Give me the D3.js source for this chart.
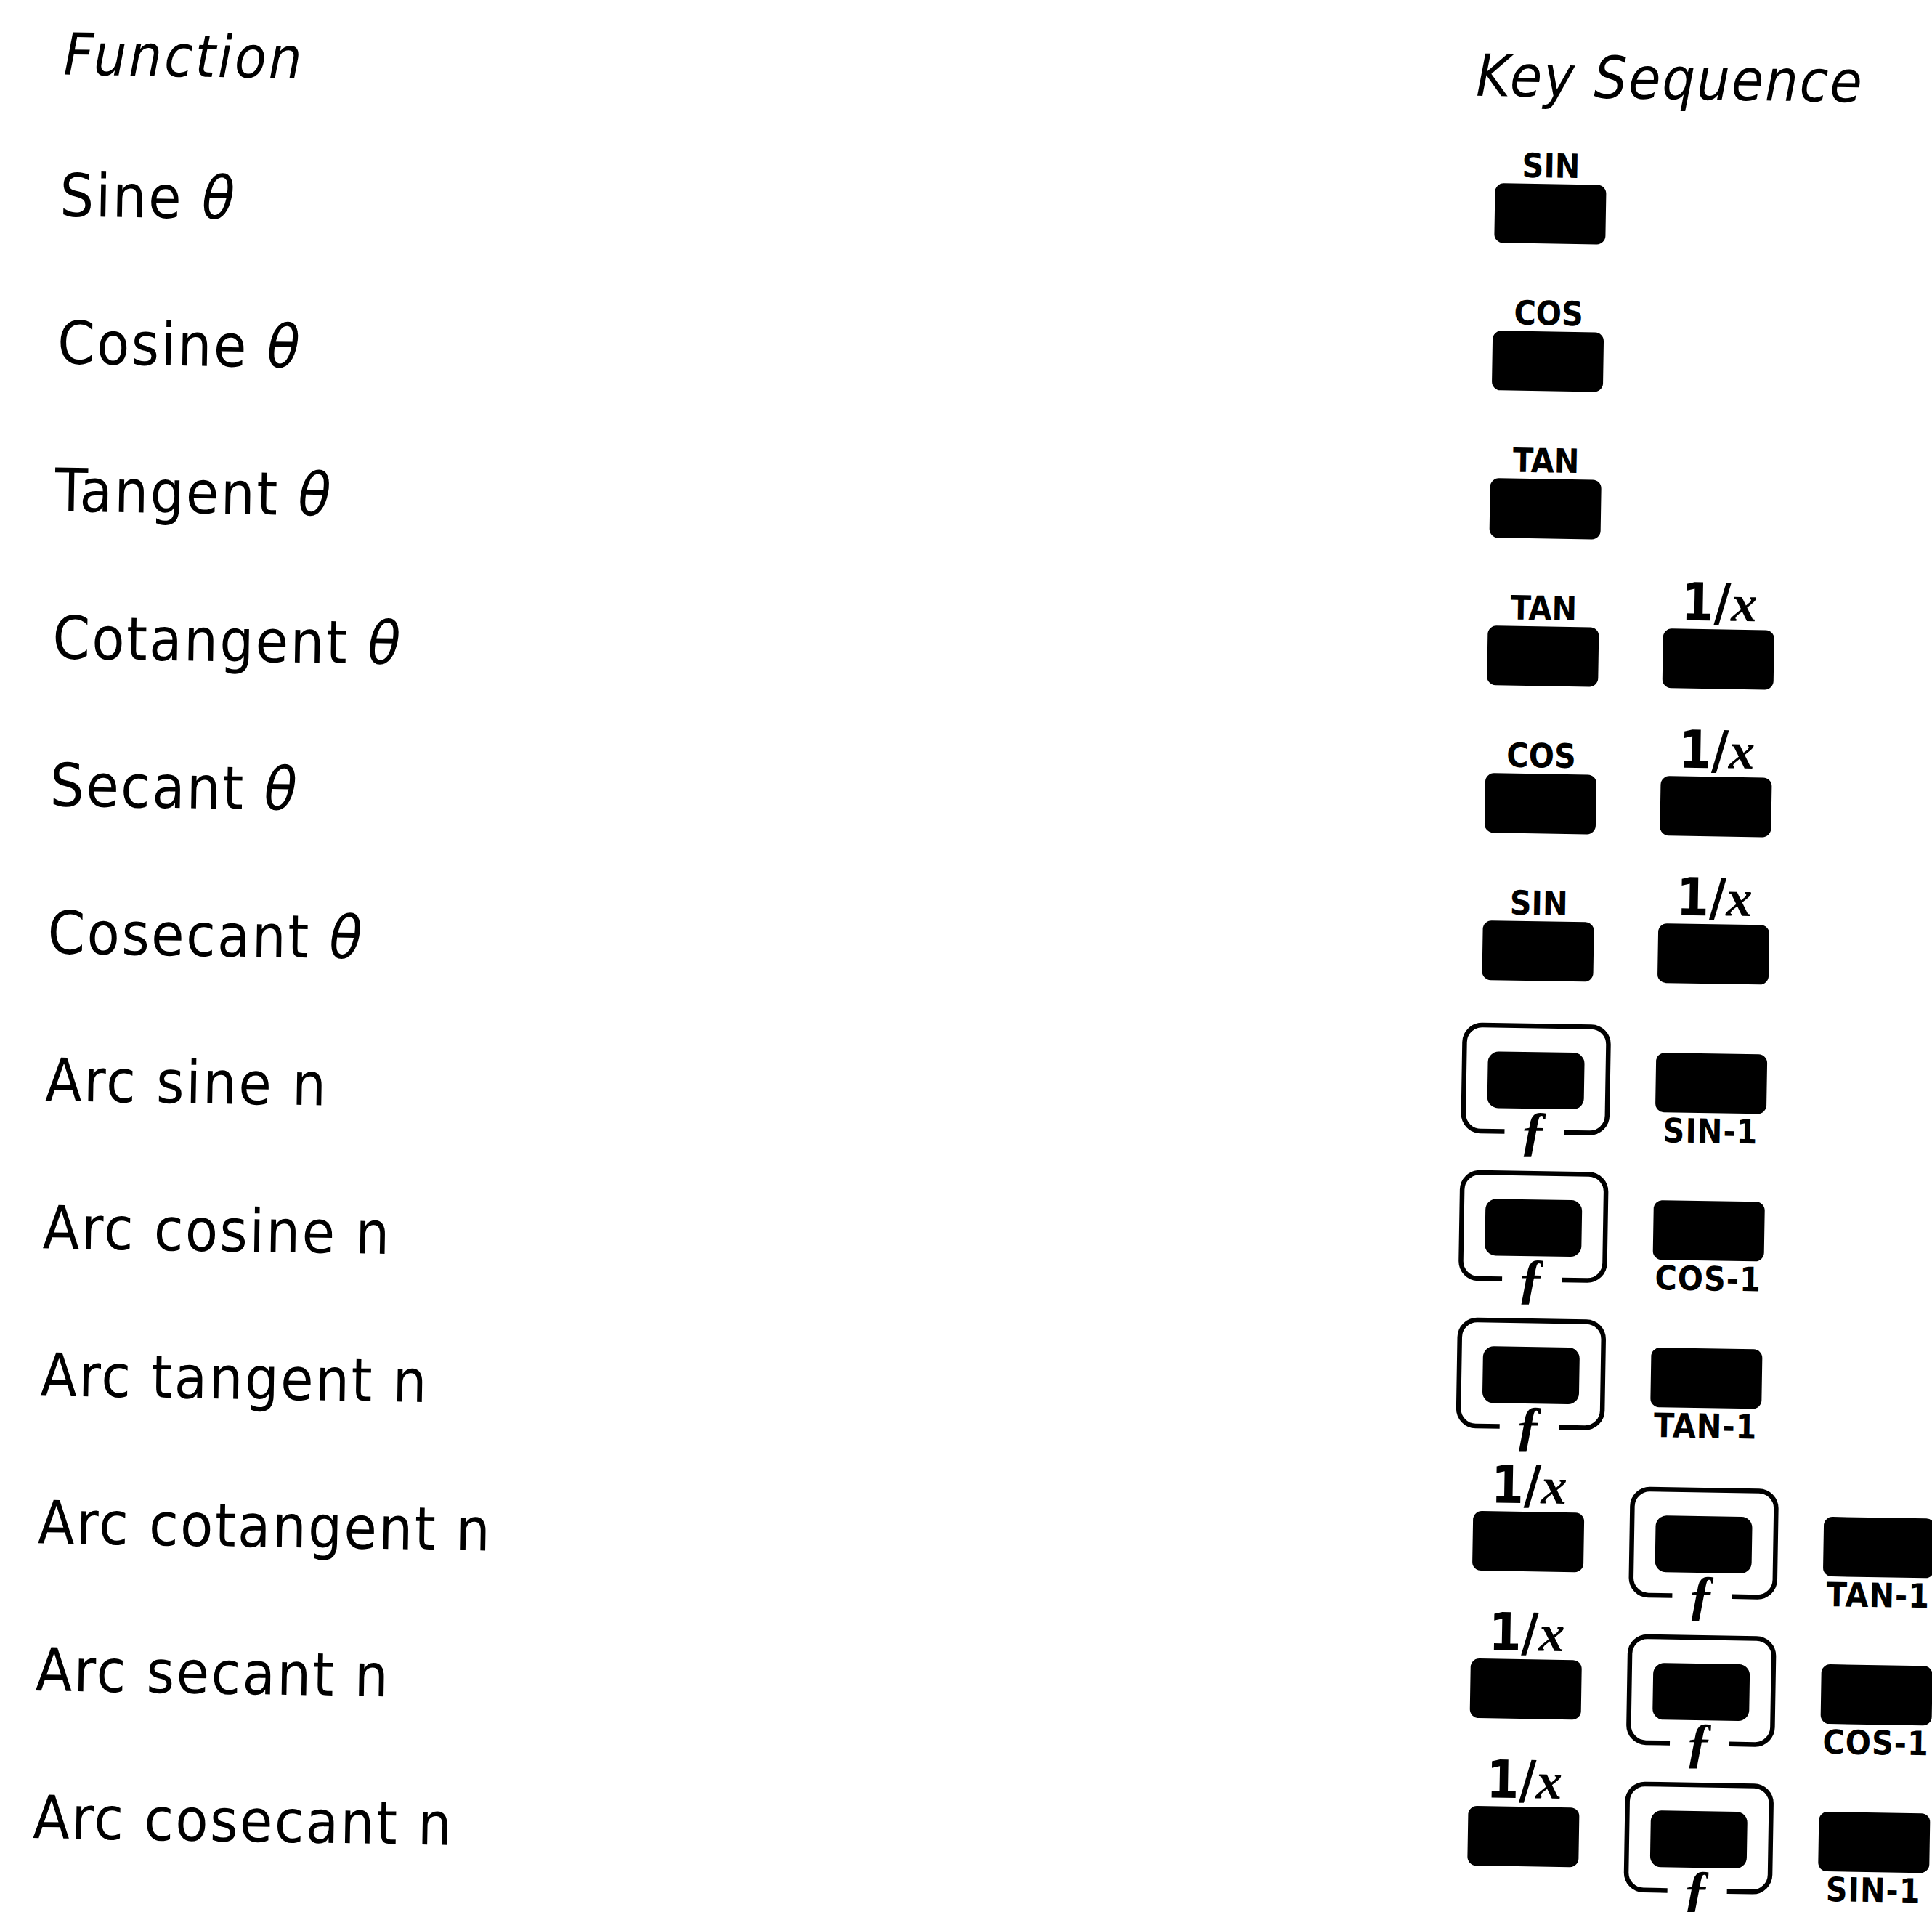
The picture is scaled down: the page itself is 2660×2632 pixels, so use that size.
<!DOCTYPE html>
<html><head><meta charset="utf-8">
<script src="https://cdn.jsdelivr.net/npm/d3@7"></script>
<style>html,body{margin:0;padding:0;background:#fff;overflow:hidden}</style>
</head><body><svg id="chart"></svg>
<script>
const headers = ["Function", "Key Sequence"];
const functionNames = ["Sine", "Cosine", "Tangent", "Cotangent", "Secant", "Cosecant",
  "Arc sine", "Arc cosine", "Arc tangent", "Arc cotangent", "Arc secant", "Arc cosecant"];
const functionArgs = ["θ", "θ", "θ", "θ", "θ", "θ", "n", "n", "n", "n", "n", "n"];
const keySequences = [
  ["SIN"], ["COS"], ["TAN"],
  ["TAN", "1/x"], ["COS", "1/x"], ["SIN", "1/x"],
  ["f", "SIN-1"], ["f", "COS-1"], ["f", "TAN-1"],
  ["1/x", "f", "TAN-1"], ["1/x", "f", "COS-1"], ["1/x", "f", "SIN-1"]
];

const W = 2660, H = 2632;
const svg = d3.select("#chart").attr("width", W).attr("height", H)
  .style("background", "#fff");

const textFont = "'DejaVu Sans Condensed', 'DejaVu Sans', sans-serif";
const keyFont = "'DejaVu Sans Condensed', 'DejaVu Sans', sans-serif";

const y = d3.scalePoint().domain(d3.range(functionNames.length)).range([296, 2529]);
const x = d3.scalePoint().domain([0, 1, 2]).range([2139, 2622]);

const g = svg.append("g").attr("transform", "rotate(0.95)");

// headers
g.append("text").attr("x", 89).attr("y", 101)
  .attr("font-family", textFont).attr("font-style", "italic")
  .attr("font-size", 80).attr("letter-spacing", 3).text(headers[0]);
g.append("text").attr("x", 2034).attr("y", 98)
  .attr("font-family", textFont).attr("font-style", "italic")
  .attr("font-size", 80).attr("letter-spacing", 2).text(headers[1]);

// row labels
const rowLabels = g.selectAll("text.row").data(functionNames).join("text")
  .attr("class", "row")
  .attr("x", 87).attr("y", (d, i) => y(i))
  .attr("font-family", textFont).attr("font-size", 82).attr("letter-spacing", 2.5);
rowLabels.append("tspan").text(d => d + " ");
rowLabels.append("tspan").attr("font-style", (d, i) => functionArgs[i] === "θ" ? "italic" : "normal")
  .text((d, i) => functionArgs[i]);

const KW = 153, KH = 82, KR = 12;
const IW = 133, IH = 78, IR = 15;

function keyCy(i) {
  const s = keySequences[i];
  if (s[0] === "f") return y(i) - 62;
  if (s.includes("f")) return y(i) - 36;
  return y(i) - 37;
}

keySequences.forEach((seq, i) => {
  const cy = keyCy(i);
  seq.forEach((k, j) => {
    const cx = x(j);
    const kg = g.append("g");
    if (k === "f") {
      const T = cy - IH / 2 - 36, B = cy + IH / 2 + 32;
      const L = cx - 99, R = cx + 99, r = 24;
      const p = d3.path();
      p.moveTo(cx - 42, B);
      p.lineTo(L + r, B); p.arcTo(L, B, L, B - r, r);
      p.lineTo(L, T + r); p.arcTo(L, T, L + r, T, r);
      p.lineTo(R - r, T); p.arcTo(R, T, R, T + r, r);
      p.lineTo(R, B - r); p.arcTo(R, B, R - r, B, r);
      p.lineTo(cx + 40, B);
      kg.append("path").attr("d", p.toString()).attr("fill", "none")
        .attr("stroke", "#000").attr("stroke-width", 6.5);
      kg.append("rect").attr("x", cx - IW / 2).attr("y", cy - IH / 2)
        .attr("width", IW).attr("height", IH).attr("rx", IR).attr("fill", "#000");
      kg.append("text").attr("x", cx - 2).attr("y", B + 24)
        .attr("text-anchor", "middle")
        .attr("font-family", "'Liberation Serif', serif").attr("font-style", "italic")
        .attr("font-weight", "bold").attr("font-size", 76).text("ƒ");
    } else {
      const top = cy - KH / 2, bottom = cy + KH / 2;
      kg.append("rect").attr("x", cx - KW / 2).attr("y", top)
        .attr("width", KW).attr("height", KH).attr("rx", KR).attr("fill", "#000");
      if (k === "1/x") {
        const t = kg.append("text").attr("x", cx).attr("y", top - 12)
          .attr("text-anchor", "middle").attr("font-size", 72).attr("font-weight", "bold");
        t.append("tspan").attr("font-family", keyFont).text("1/");
        t.append("tspan").attr("font-family", "'Liberation Serif', serif")
          .attr("font-style", "italic").text("x");
      } else if (k.endsWith("-1")) {
        kg.append("text").attr("x", cx).attr("y", bottom + 41)
          .attr("text-anchor", "middle").attr("font-family", keyFont)
          .attr("font-weight", "bold").attr("font-size", 46).attr("letter-spacing", 1).text(k);
      } else {
        kg.append("text").attr("x", cx).attr("y", top - 9)
          .attr("text-anchor", "middle").attr("font-family", keyFont)
          .attr("font-weight", "bold").attr("font-size", 46).text(k);
      }
    }
  });
});
</script></body></html>
